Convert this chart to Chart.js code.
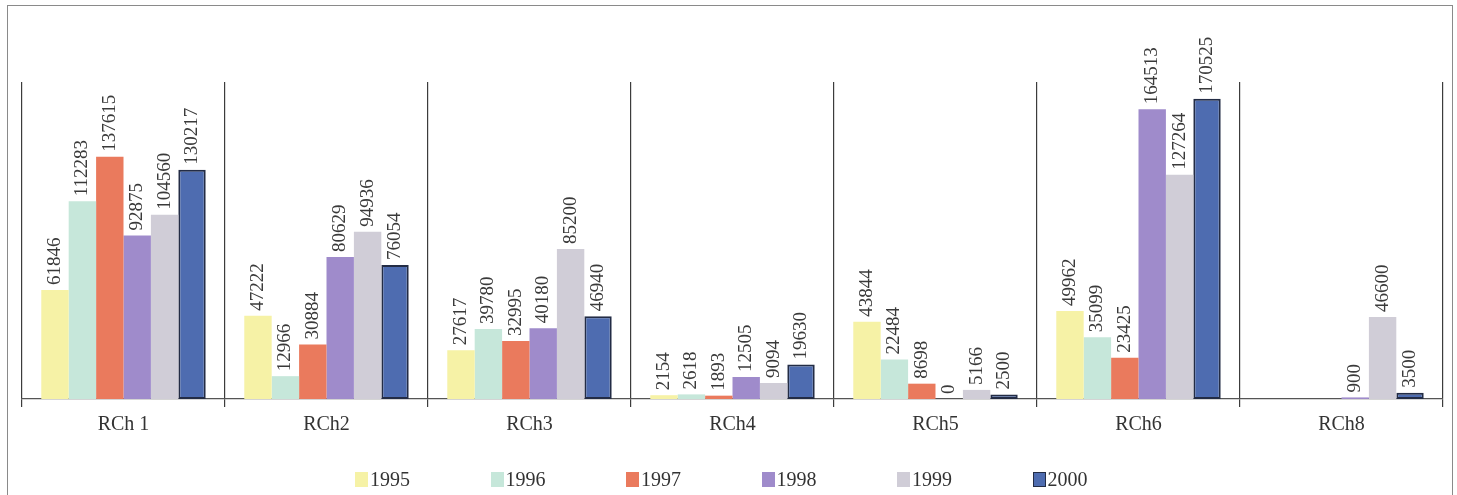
<!DOCTYPE html>
<html lang="en">
  <head>
    <meta charset="UTF-8" />
    <title>RCh 1995-2000</title>
    <script src="https://cdn.jsdelivr.net/npm/chart.js"></script>
    <style>
      body { margin: 0; background: #fff; }
      #wrap { position: relative; width: 1457px; height: 495px; overflow: hidden; }
      #frame { position: absolute; left: 7px; top: 5px; width: 1444px; height: 520px; border: 1px solid #8a8a8a; }
      #legend { position: absolute; top: 468px; left: 355px; display: flex; font-family: "Liberation Serif", serif; font-size: 20px; color: #333; }
      .item { width: 135.5px; display: flex; align-items: center; }
      .box { width: 13px; height: 15px; margin-right: 2px; }
    </style>
  </head>
  <body>
    <div id="wrap">
      <div id="frame"></div>
      <canvas id="chart" width="1457" height="495"></canvas>
      <div id="legend"></div>
    </div>

    <script>
      // categories and series
      const regions = ["RCh 1", "RCh2", "RCh3", "RCh4", "RCh5", "RCh6", "RCh8"];
      const years = ["1995", "1996", "1997", "1998", "1999", "2000"];
      const v1995 = [61846, 47222, 27617, 2154, 43844, 49962, null];
      const v1996 = [112283, 12966, 39780, 2618, 22484, 35099, null];
      const v1997 = [137615, 30884, 32995, 1893, 8698, 23425, null];
      const v1998 = [92875, 80629, 40180, 12505, 0, 164513, 900];
      const v1999 = [104560, 94936, 85200, 9094, 5166, 127264, 46600];
      const v2000 = [130217, 76054, 46940, 19630, 2500, 170525, 3500];
      const colors = ["#f6f2a6", "#c6e7da", "#ea7a5d", "#9f8bcb", "#d0cdd7", "#4e6cb0"];

      const seriesValues = [v1995, v1996, v1997, v1998, v1999, v2000];

      // value labels, rotated, above each bar
      const barLabels = {
        id: "barLabels",
        afterDatasetsDraw(chart) {
          const ctx = chart.ctx;
          ctx.save();
          ctx.font = "19px 'Liberation Serif', serif";
          ctx.fillStyle = "#3a3a3a";
          ctx.textAlign = "left";
          ctx.textBaseline = "middle";
          chart.data.datasets.forEach((ds, i) => {
            const meta = chart.getDatasetMeta(i);
            meta.data.forEach((bar, j) => {
              const v = ds.data[j];
              if (v === null) return;
              ctx.save();
              ctx.translate(bar.x, bar.y - 5);
              ctx.rotate(-Math.PI / 2);
              ctx.fillText(String(v), 0, 0);
              ctx.restore();
            });
          });
          ctx.restore();
        },
      };

      new Chart(document.getElementById("chart"), {
        type: "bar",
        data: {
          labels: regions,
          datasets: years.map((y, i) => ({
            label: y,
            data: seriesValues[i],
            backgroundColor: colors[i],
            borderColor: i === 5 ? "#232c45" : colors[i],
            borderWidth: i === 5 ? 2 : 0,
            borderSkipped: false,
            categoryPercentage: 0.81,
            barPercentage: 1.0,
          })),
        },
        options: {
          responsive: false,
          animation: false,
          layout: { padding: { left: 22, right: 14, top: 82, bottom: 52 } },
          plugins: {
            legend: { display: false },
            tooltip: { enabled: false },
          },
          scales: {
            x: {
              grid: {
                offset: true,
                color: "#3c3c3c",
                lineWidth: 1.2,
                tickLength: 8,
              },
              border: { display: true, color: "#555", width: 1.2 },
              ticks: {
                padding: 6,
                color: "#333",
                font: { family: "'Liberation Serif', serif", size: 20 },
              },
            },
            y: {
              display: false,
              min: 0,
              max: 180000,
            },
          },
        },
        plugins: [barLabels],
      });

      // legend from the same arrays
      const legend = document.getElementById("legend");
      years.forEach((y, i) => {
        const item = document.createElement("div");
        item.className = "item";
        item.innerHTML = `<span class="box" style="background:${colors[i]};${i === 5 ? "border:1.5px solid #232c45;box-sizing:border-box;" : ""}"></span>${y}`;
        legend.appendChild(item);
      });
    </script>
  </body>
</html>
